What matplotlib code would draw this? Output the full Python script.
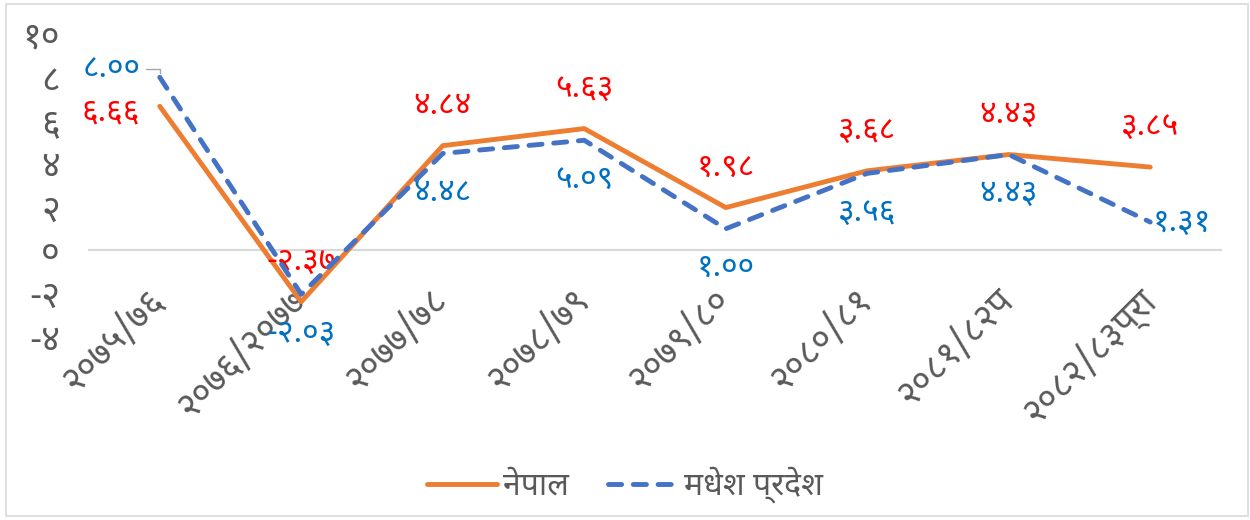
import matplotlib
matplotlib.use('Agg')
from matplotlib import pyplot as plt
from matplotlib import font_manager
from matplotlib.patches import Rectangle

# 数据
years = ['२०७५/७६', '२०७६/२०७७', '२०७७/७८', '२०७८/७९', '२०७९/८०', '२०८०/८१', '२०८१/८२प', '२०८२/८३प्रा']
nepal = [6.66, -2.37, 4.84, 5.63, 1.98, 3.68, 4.43, 3.85]
madhesh = [8.00, -2.03, 4.48, 5.09, 1.00, 3.56, 4.43, 1.31]
nepal_labels = ['६.६६', '-२.३७', '४.८४', '५.६३', '१.९८', '३.६८', '४.४३', '३.८५']
madhesh_labels = ['८.००', '-२.०३', '४.४८', '५.०९', '१.००', '३.५६', '४.४३', '१.३१']
yticks = [-4, -2, 0, 2, 4, 6, 8, 10]
ytick_labels = ['-४', '-२', '०', '२', '४', '६', '८', '१०']
legend_names = ['नेपाल', 'मधेश प्रदेश']

# 天城文字体
installed = {f.name for f in font_manager.fontManager.ttflist}
dev = None
for name in ['Noto Sans Devanagari', 'Mukta', 'Hind', 'Poppins', 'Anek Devanagari']:
    if name in installed:
        dev = name
        break
plt.rcParams['font.family'] = ([dev] if dev else []) + ['DejaVu Sans']
plt.rcParams['font.weight'] = 'light'

grey = '#595959'
orange = '#ed7d31'
blue = '#4472c4'
fs_tick = 26
fs_lab = 23

fig = plt.figure(figsize=(12.5, 5.2), dpi=100)
ax = fig.add_axes([89 / 1250, 1 - 337 / 520, (1221 - 89) / 1250, (337 - 34) / 520])
fig.patches.append(Rectangle((0.005, 0.008), 0.993, 0.985, transform=fig.transFigure,
                             fill=False, edgecolor='#d9d9d9', lw=1.2))

x = range(len(years))
ax.plot(x, nepal, color=orange, lw=3.5, solid_capstyle='round', label=legend_names[0], zorder=3)
ax.plot(x, madhesh, color=blue, lw=3.5, ls=(0, (2.7, 2.4)), dash_capstyle='round',
        label=legend_names[1], zorder=4)

ax.set_xlim(-0.5, len(years) - 0.5)
ax.set_ylim(-4, 10)
ax.set_yticks(yticks)
ax.set_yticklabels(ytick_labels)
ax.set_xticks(list(x))
ax.set_xticklabels(years)

for s in ['top', 'right', 'left']:
    ax.spines[s].set_visible(False)
ax.spines['bottom'].set_position(('data', 0))
ax.spines['bottom'].set_color('#d9d9d9')
ax.spines['bottom'].set_linewidth(1.5)
ax.tick_params(axis='both', length=0, colors=grey, labelsize=fs_tick)
ax.tick_params(axis='y', pad=21)
ax.tick_params(axis='x', pad=32)
plt.setp(ax.get_xticklabels(), rotation=45, ha='right', va='center', rotation_mode='anchor')

# 数据标签
for i, (v, t) in enumerate(zip(nepal, nepal_labels)):
    if i == 0:
        ax.annotate(t, (i, v), xytext=(-14, -4), textcoords='offset points',
                    ha='right', va='center', color='red', fontsize=fs_lab)
    else:
        ax.annotate(t, (i, v), xytext=(0, 29), textcoords='offset points',
                    ha='center', va='center', color='red', fontsize=fs_lab)

for i, (v, t) in enumerate(zip(madhesh, madhesh_labels)):
    if i == 0:
        ax.annotate(t, (i, v), xytext=(-14, 6), textcoords='offset points',
                    ha='right', va='center', color='#0070c0', fontsize=fs_lab,
                    arrowprops=dict(arrowstyle='-', color='#a6a6a6', lw=1,
                                    shrinkA=2, shrinkB=3,
                                    connectionstyle='angle,angleA=0,angleB=90,rad=0'))
    elif i == len(madhesh) - 1:
        ax.annotate(t, (i, v), xytext=(2, 0), textcoords='offset points',
                    ha='left', va='center', color='#0070c0', fontsize=fs_lab)
    else:
        ax.annotate(t, (i, v), xytext=(0, -28), textcoords='offset points',
                    ha='center', va='center', color='#0070c0', fontsize=fs_lab)

leg = fig.legend(loc='center', bbox_to_anchor=(0.5, 1 - 485 / 520), ncol=2, frameon=False,
                 fontsize=23, handlelength=2.2, columnspacing=1.2, handletextpad=0.2)
for t in leg.get_texts():
    t.set_color(grey)

plt.savefig('out.png', dpi=100)
print('finish', dev)
